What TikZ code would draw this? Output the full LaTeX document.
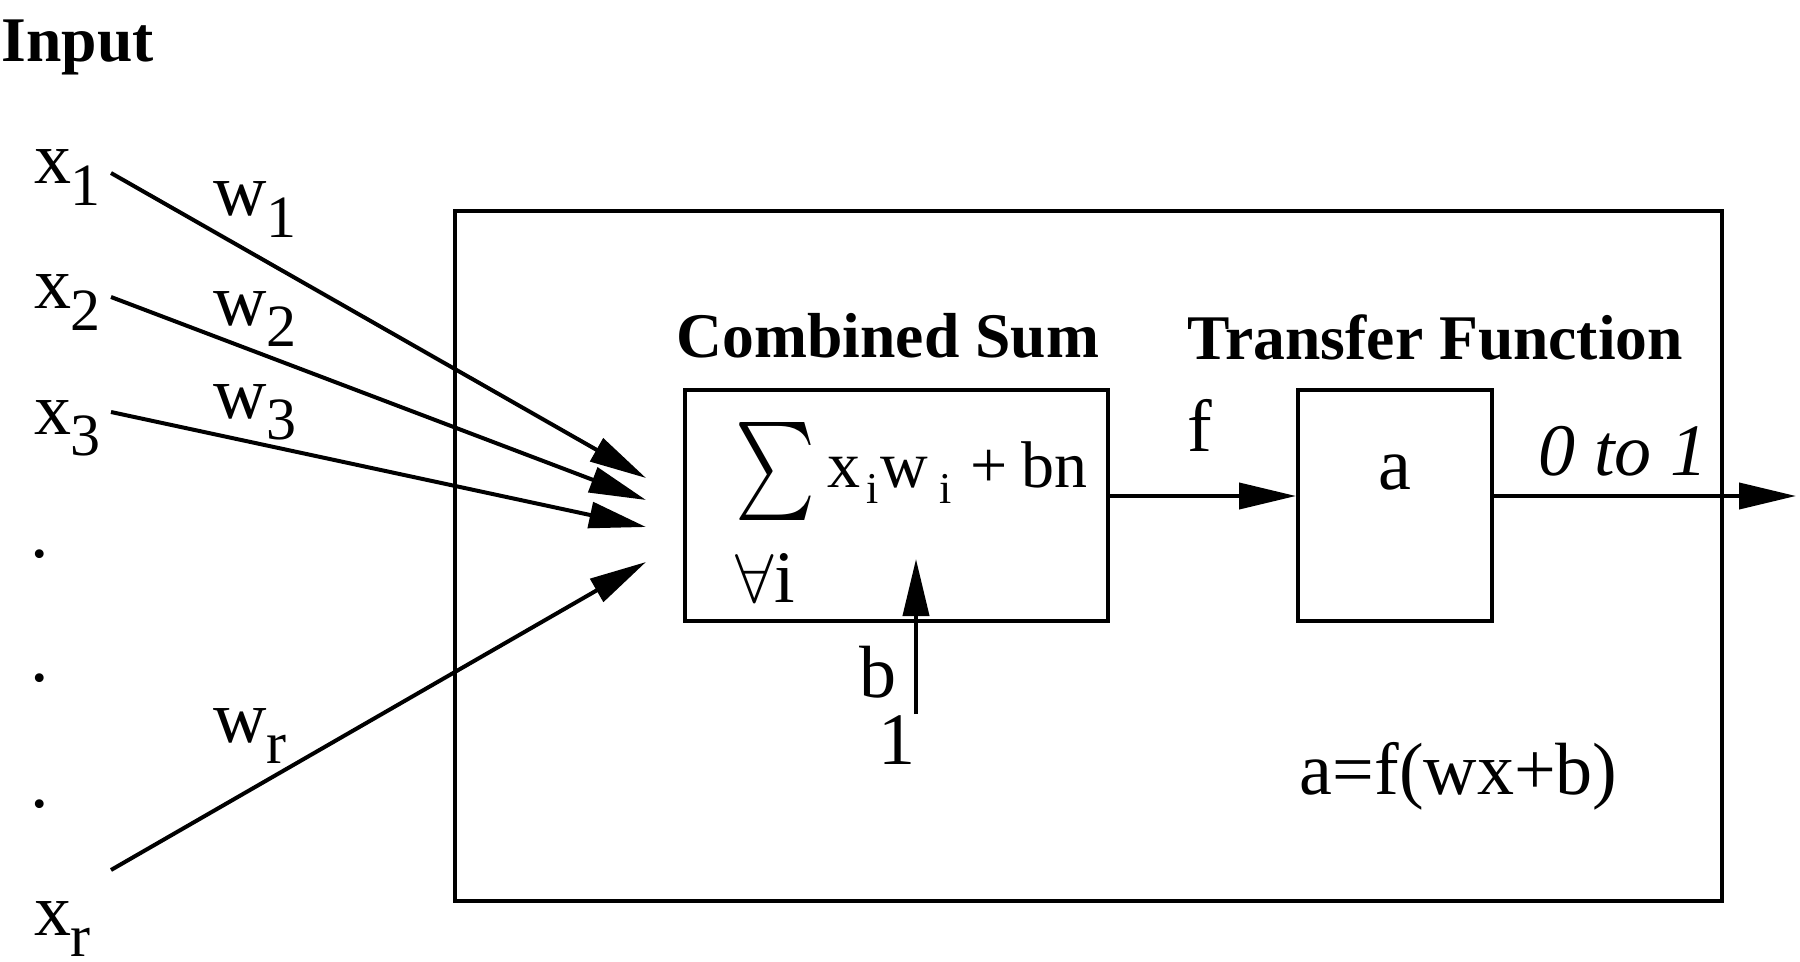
\documentclass[tikz,border=0pt]{standalone}
\usepackage{fontspec}
\usepackage{graphicx}
\setmainfont{Liberation Serif}
\usetikzlibrary{arrows.meta,fit}
\newcommand{\sbs}[1]{\kern-0.3pt\raisebox{-5.4pt}{\fontsize{15pt}{15pt}\selectfont #1}}
\newcommand{\sbf}[1]{\raisebox{-4pt}{\fontsize{11pt}{11pt}\selectfont #1}}
\begin{document}
\begin{tikzpicture}[x=0.25pt,y=-0.25pt,
  lbl/.style={inner sep=0pt, font=\fontsize{18.5pt}{20pt}\selectfont},
  frm/.style={inner sep=0pt, font=\fontsize{16.5pt}{19pt}\selectfont},
  head/.style={inner sep=0pt, font=\fontsize{15.9pt}{18pt}\selectfont\bfseries},
  boxline/.style={draw, line width=1pt, inner sep=0pt},
  arr/.style={line width=1pt, -{Triangle[length=14.25pt,width=6.5pt]}},
  ]
\useasboundingbox (0,0) rectangle (1800,962);
% boxes
\node[boxline, fit={(455,211) (1722,901)}] (outer) {};
\node[boxline, fit={(685,390) (1108,621)}] (sumbox) {};
\node[boxline, fit={(1298,390) (1492,621)}] (abox) {};
% headings
\node[head, anchor=base west] (input) at (1,62) {Input};
\node[head, anchor=base west] (combined) at (676,357) {Combined Sum};
\node[head, anchor=base west] (transfer) at (1187,359) {Transfer Function};
% inputs
\node[lbl, anchor=base west] (x1) at (34,184) {x\sbs{1}};
\node[lbl, anchor=base west] (x2) at (34,309) {x\sbs{2}};
\node[lbl, anchor=base west] (x3) at (34,434) {x\sbs{3}};
\node[lbl, anchor=base] (d1) at (40,557) {.};
\node[lbl, anchor=base] (d2) at (40,681) {.};
\node[lbl, anchor=base] (d3) at (40,807) {.};
\node[lbl, anchor=base west] (xr) at (34,935) {x\sbs{r}};
% weights
\node[lbl, anchor=base west] (w1) at (213,216) {w\sbs{1}};
\node[lbl, anchor=base west] (w2) at (213,325) {w\sbs{2}};
\node[lbl, anchor=base west] (w3) at (213,418) {w\sbs{3}};
\node[lbl, anchor=base west] (wr) at (213,742) {w\sbs{r}};
% input arrows
\coordinate (s1) at (111,173); \coordinate (t1) at (646,478);
\coordinate (s2) at (111,297); \coordinate (t2) at (646,500);
\coordinate (s3) at (111,412); \coordinate (t3) at (646,527);
\coordinate (sr) at (111,870); \coordinate (tr) at (646,562);
\draw[arr] (s1) -- (t1);
\draw[arr] (s2) -- (t2);
\draw[arr] (s3) -- (t3);
\draw[arr] (sr) -- (tr);
% sum formula
\node[inner sep=0pt, anchor=north west] (sigma) at (735,422) {\resizebox*{20pt}{24.5pt}{$\textstyle\sum$}};
\node[frm, anchor=base west] (sumtxt) at (827,487) {x\kern1.5pt\sbf{i}\kern0.3pt w\kern3pt\sbf{i}\kern4.5pt+\kern3.5pt bn};
\node[lbl, anchor=base west] (forall) at (735,602) {$\forall$i};
% bias
\coordinate (bs) at (916,714); \coordinate (bt) at (916,559);
\draw[arr] (bs) -- (bt);
\node[lbl, anchor=base] (blbl) at (878,697) {b};
\node[lbl, anchor=base] (one) at (897,764) {1};
% f arrow and output
\coordinate (fy) at (0,496);
\draw[arr] (sumbox.east |- fy) -- (abox.west |- fy);
\coordinate (outtip) at (1796,496);
\draw[arr] (abox.east |- fy) -- (outtip);
\node[lbl, anchor=base] (flbl) at (1200,452) {f};
\node[lbl, anchor=base] (aval) at (1395,489) {a};
\node[lbl, anchor=base west] (range) at (1538,475) {\itshape 0 to 1};
\node[lbl, anchor=base west] (eqn) at (1299,794) {a=f(wx+b)};
\end{tikzpicture}
\end{document}
